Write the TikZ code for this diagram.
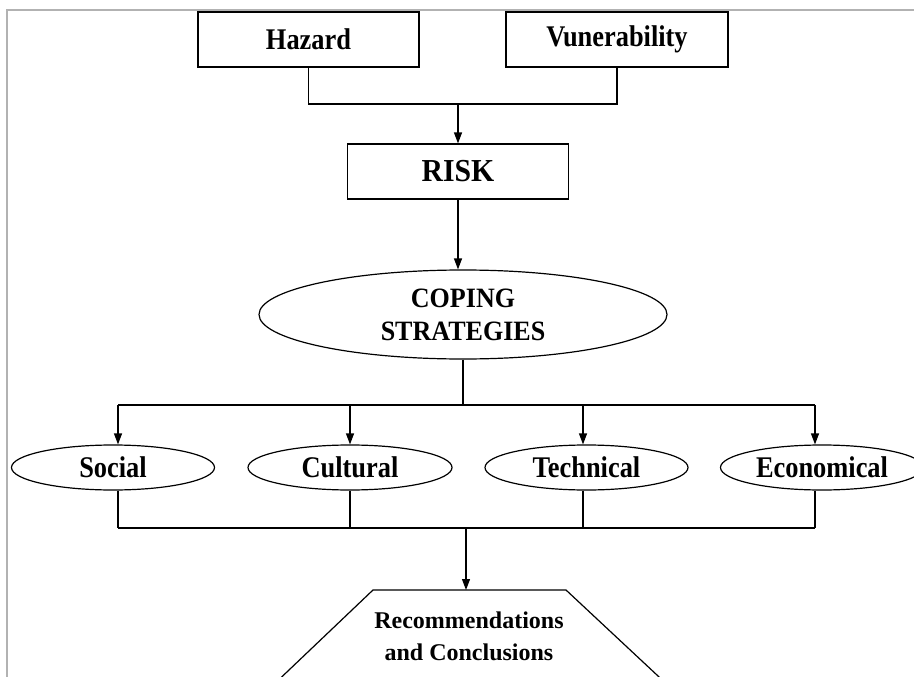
\documentclass[tikz,border=0pt]{standalone}
\usepackage{fontspec}
\setmainfont{Liberation Serif}
\newfontfamily\condA[FakeStretch=0.88]{Liberation Serif}
\newfontfamily\condB[FakeStretch=0.93]{Liberation Serif}
\usetikzlibrary{arrows.meta,shapes.geometric}
\begin{document}
\begin{tikzpicture}[x=1pt,y=-1pt,line width=1.2pt,
  box/.style={draw,rectangle,inner sep=0pt,minimum width=221pt,minimum height=55pt},
  oval/.style={draw,ellipse,inner sep=0pt,minimum width=203pt,minimum height=45pt},
  arr/.style={-{Triangle[length=11pt,width=8pt]}},
  lblA/.style={font=\condA\bfseries\fontsize{30}{33}\selectfont},
  lblB/.style={font=\condB\bfseries\fontsize{28}{33}\selectfont,align=center},
  lblC/.style={font=\bfseries\fontsize{24}{32}\selectfont,align=center},
  frame/.style={draw=black!30,line width=1.5pt}]
\useasboundingbox (0,0) rectangle (914,677);
\clip (0,0) rectangle (914,677);
\draw[frame] (7,680) -- (7,10) -- (916,10);

% top boxes
\node[box,lblA] (haz) at (308.5,39.5) {Hazard};
\node[box,lblA,minimum width=222pt] (vul) at (617,39.5) {Vunerability};
\coordinate (join) at (458,104);
\draw (haz.south) |- (join) -| (vul.south);

% risk
\node[box,font=\condB\bfseries\fontsize{32}{34}\selectfont] (risk) at (458,171.5) {RISK};
\draw[arr] (join) -- (risk.north);

% coping
\node[draw,ellipse,inner sep=0pt,minimum width=408pt,minimum height=89pt,lblB] (cope) at (463,314.5) {COPING\\STRATEGIES};
\draw[arr] (risk.south) -- (risk.south |- cope.north);

% bus
\coordinate (bus) at (463,405);
\coordinate (b1) at (118,405);
\coordinate (b2) at (350,405);
\coordinate (b3) at (583,405);
\coordinate (b4) at (815,405);
\draw (cope.south) -- (bus);
\draw (b1) -- (b4);

% strategies
\node[oval,lblA] (soc) at (113,467.5) {Social};
\node[oval,lblA,minimum width=204pt] (cul) at (350,467.5) {Cultural};
\node[oval,lblA] (tec) at (586.5,467.5) {Technical};
\node[oval,lblA] (eco) at (822,467.5) {Economical};
\draw[arr] (b1) -- (b1 |- soc.north);
\draw[arr] (b2) -- (b2 |- cul.north);
\draw[arr] (b3) -- (b3 |- tec.north);
\draw[arr] (b4) -- (b4 |- eco.north);

% lower bus
\coordinate (c1) at (118,528);
\coordinate (c2) at (350,528);
\coordinate (c3) at (583,528);
\coordinate (c4) at (815,528);
\draw (soc.south -| c1) -- (c1);
\draw (cul.south -| c2) -- (c2);
\draw (tec.south -| c3) -- (c3);
\draw (eco.south -| c4) -- (c4);
\draw (c1) -- (c4);

% recommendations
\coordinate (c0) at (466,528);
\coordinate (rtop) at (466,590);
\draw[arr] (c0) -- (rtop);
\draw (268,690) -- (373,590) -- (566,590) -- (673,690);
\node[lblC] (rec) at (469,636) {Recommendations\\and Conclusions};
\end{tikzpicture}
\end{document}
